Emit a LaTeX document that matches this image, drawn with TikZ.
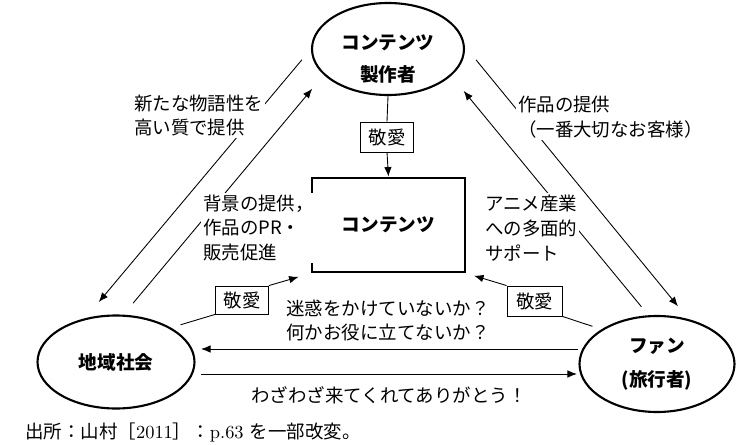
\documentclass[tikz,border=0pt]{standalone}
\usepackage{fontspec}
\usetikzlibrary{arrows.meta,positioning,shapes.geometric,calc}
\newfontfamily\jp{Noto Sans CJK JP}
\tikzset{
  actor/.style={ellipse,draw,line width=1.2pt,inner sep=0pt,align=center,
                minimum width=3.1cm,minimum height=1.88cm,
                font=\jp\bfseries\fontsize{10.6}{19}\selectfont},
  actortext/.style={align=center,inner sep=0pt,
                    font=\jp\bfseries\fontsize{10.6}{18.5}\selectfont},
  core/.style={rectangle,draw,line width=1.6pt,minimum width=3.06cm,
               minimum height=1.88cm,font=\jp\bfseries\fontsize{10.6}{12}\selectfont},
  keiai/.style={rectangle,draw,line width=0.5pt,inner sep=0pt,
                minimum width=1.06cm,minimum height=0.6cm,
                font=\jp\fontsize{10.5}{12}\selectfont},
  note/.style={fill=white,inner sep=1pt,align=left,
               font=\jp\fontsize{10.5}{14.2}\selectfont},
  arr/.style={-{Latex[length=1.9mm,width=1.5mm]},line width=0.5pt},
  link/.style={line width=0.5pt},
}
\begin{document}
\begin{tikzpicture}
  \useasboundingbox (0,0) rectangle (15,8.88);

  \node[actor,minimum width=3.04cm,minimum height=1.84cm,
        label={[actortext,yshift=-0.2cm]center:コンテンツ\\製作者}] (prod) at (7.76,7.9) {};
  \node[core] (content) at (7.77,4.38) {コンテンツ};
  \node[keiai] (k1) at (7.74,6.14) {敬愛};
  \node[actor,minimum width=3.14cm,minimum height=1.86cm] (region) at (2.32,1.64) {地域社会};
  \node[actor,minimum width=3.1cm,minimum height=1.92cm] (fan) at (13.14,1.6) {ファン\\(旅行者)};
  \node[keiai,minimum height=0.56cm] (k2) at (4.84,2.88) {敬愛};
  \node[keiai,minimum width=1.1cm] (k3) at (10.69,2.86) {敬愛};

  \draw[arr,shorten <=0.28cm,shorten >=0.42cm] (prod.west) -- (region.125);
  \draw[arr,shorten <=0.3cm,shorten >=0.36cm] (region.81) -- (prod.202);
  \draw[arr,shorten <=0.35cm,shorten >=0.33cm] (prod.2) -- (fan.55);
  \draw[arr,shorten <=0.22cm,shorten >=0.39cm] (fan.100) -- (prod.337);

  \draw[link] (prod.south) -- (k1.north);
  \draw[arr] (k1.south) -- (content.north);
  \draw[link,shorten <=0.2cm] (region.32) -- (k2.south west);
  \draw[arr,shorten >=0.25cm] (k2.north east) -- (content.south west);
  \draw[arr,shorten >=0.16cm] (k3.north west) -- (content.south east);
  \draw[link,shorten >=0.19cm] (k3.south east) -- (fan.148);

  \coordinate (up) at ([yshift=0.3cm]fan.west);
  \coordinate (down) at ([yshift=-0.24cm]region.east);
  \draw[arr,shorten >=0.11cm] (up) -- (up -| region.east);
  \draw[arr,shorten <=0.11cm,shorten >=0.03cm] (down) -- (down -| fan.west);

  \node[note,anchor=west] (story) at (2.64,6.57) {新たな物語性を\\高い質で提供};
  \node[note,anchor=west] (works) at (10.32,6.53) {作品の提供\\（一番大切なお客様）};
  \node[note,anchor=west] (promo) at (4.02,4.32) {背景の提供，\\作品のPR・\\販売促進};
  \node[note,anchor=west] (anime) at (9.66,4.32) {アニメ産業\\への多面的\\サポート};
  \node[note,align=center,fill=none] (worry) at (7.76,2.47) {迷惑をかけていないか？\\何かお役に立てないか？};
  \node[note,fill=none] (thanks) at (7.78,0.98) {わざわざ来てくれてありがとう！};

  \node[anchor=west,inner sep=0pt,font=\fontsize{10.5}{12}\selectfont] (source) at (0.5,0.24)
    {{\jp 出所：山村［}2011{\jp ］：}p.63 {\jp を一部改変。}};
\end{tikzpicture}
\end{document}
